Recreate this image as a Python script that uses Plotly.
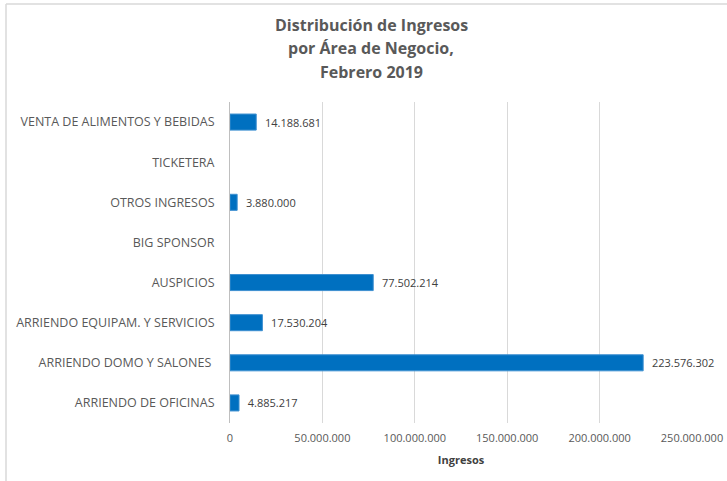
import plotly.graph_objects as go

categories = [
    "ARRIENDO DE OFICINAS",
    "ARRIENDO DOMO Y SALONES ",
    "ARRIENDO EQUIPAM. Y SERVICIOS",
    "AUSPICIOS",
    "BIG SPONSOR",
    "OTROS INGRESOS",
    "TICKETERA",
    "VENTA DE ALIMENTOS Y BEBIDAS",
]
values = [4885217, 223576302, 17530204, 77502214, None, 3880000, None, 14188681]
x_ticks = [0, 50000000, 100000000, 150000000, 200000000, 250000000]
title_lines = ["Distribución de Ingresos", "por Área de Negocio,", "Febrero 2019"]

W, H = 727, 481
L, R, T, B = 230, 35, 102, 58
pw, ph = W - L - R, H - T - B

def px(x):
    return (x - L) / pw

def py(y):
    return (H - B - y) / ph

fig = go.Figure(go.Bar(
    y=categories,
    x=values,
    orientation="h",
    marker=dict(color="#0070C0", line=dict(color="#3d8fd0", width=1)),
    text=values,
    texttemplate="  %{x:,d}",
    textposition="outside",
    textfont=dict(family="Open Sans", size=11, color="#404040"),
    cliponaxis=False,
    width=0.4,
))

title_y = [25, 48, 72]
annotations = [
    dict(text="<b>%s</b>" % t, xref="paper", yref="paper",
         x=px(371), y=py(yy), xanchor="center", yanchor="middle",
         showarrow=False,
         font=dict(family="Open Sans", size=16, color="#595959"))
    for t, yy in zip(title_lines, title_y)
]

fig.update_layout(
    width=W, height=H,
    margin=dict(l=L, r=R, t=T, b=B, autoexpand=False),
    paper_bgcolor="white",
    plot_bgcolor="white",
    separators=",.",
    showlegend=False,
    font=dict(family="Open Sans", color="#595959"),
    annotations=annotations,
    xaxis=dict(
        range=[0, 250000000],
        tickvals=x_ticks,
        tickformat=",d",
        showgrid=True,
        gridcolor="#d9d9d9",
        gridwidth=1,
        zeroline=False,
        showline=False,
        ticks="",
        automargin=False,
        ticklabelstandoff=7,
        tickfont=dict(family="Open Sans", size=11, color="#595959"),
        title=dict(text="<b>Ingresos</b>", font=dict(family="Open Sans", size=11, color="#404040"), standoff=12),
        fixedrange=True,
    ),
    yaxis=dict(
        range=[-0.5, 7.5],
        showline=True,
        linecolor="#bfbfbf",
        linewidth=1,
        showgrid=False,
        ticks="",
        automargin=False,
        ticklabelstandoff=12,
        tickfont=dict(family="Open Sans", size=12.5, color="#595959"),
        fixedrange=True,
    ),
    shapes=[
        dict(type="line", xref="paper", yref="paper",
             x0=px(6), x1=px(W + 5), y0=py(4), y1=py(4),
             line=dict(color="#d9d9d9", width=1.5)),
        dict(type="line", xref="paper", yref="paper",
             x0=px(6), x1=px(6), y0=py(4), y1=py(H + 5),
             line=dict(color="#d9d9d9", width=1.5)),
    ],
)

fig.write_html("out.html", config={"displayModeBar": False},
               post_script="document.body.style.margin='0';")
